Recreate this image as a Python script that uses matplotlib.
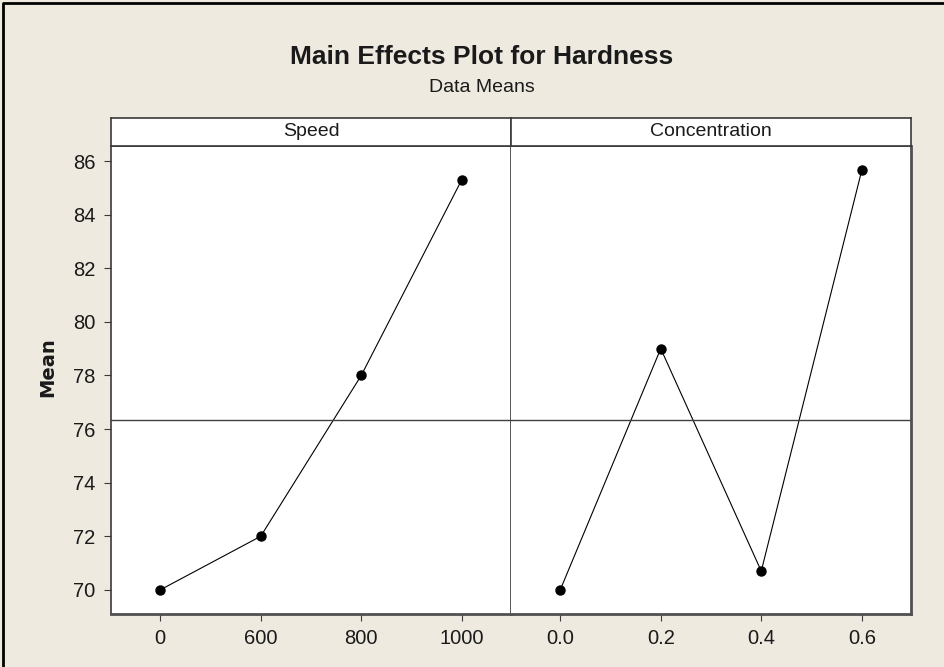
import numpy as np
import matplotlib.pyplot as plt
from matplotlib.lines import Line2D

# data
speed_levels = ['0', '600', '800', '1000']
speed_means = [70.0, 72.0, 78.0, 85.3]
conc_levels = ['0.0', '0.2', '0.4', '0.6']
conc_means = [70.0, 79.0, 70.7, 85.65]
grand_mean = np.mean(speed_means)

plt.rcParams['font.family'] = ['Liberation Sans Narrow', 'Liberation Sans', 'DejaVu Sans']

W, H = 944, 667
bg = '#EEEAE0'
edge = '#3a3a3a'
txt = '#1a1a1a'

fig = plt.figure(figsize=(W / 100, H / 100), dpi=100, facecolor=bg)

# outer frame (left and top)
fig.add_artist(Line2D([3 / W, 3 / W, 1], [0, 1 - 3 / H, 1 - 3 / H],
                      transform=fig.transFigure, color='black', lw=2))

fig.text(482 / W, 1 - 57 / H, 'Main Effects Plot for Hardness', ha='center', va='center',
         fontsize=19, fontweight='bold', color=txt)
fig.text(482 / W, 1 - 87 / H, 'Data Means', ha='center', va='center', fontsize=14, color=txt)

left, pw = 111, 400
bottom, ph = 53, 468
panels = [(speed_levels, speed_means, 'Speed'), (conc_levels, conc_means, 'Concentration')]

for i, (levels, means, name) in enumerate(panels):
    x0 = left + i * pw
    ax = fig.add_axes([x0 / W, bottom / H, pw / W, ph / H], facecolor='white')
    xs = np.arange(len(levels))
    ax.plot(xs, means, color='black', lw=0.8, marker='o', markersize=6.5,
            markerfacecolor='black', markeredgecolor='black')
    ax.axhline(grand_mean, color='#404040', lw=1)
    ax.set_xlim(-0.49, len(levels) - 0.51)
    ax.set_ylim(69.1, 86.56)
    ax.set_xticks(xs)
    ax.set_xticklabels(levels)
    ax.set_yticks(np.arange(70, 87, 2))
    for s in ax.spines.values():
        s.set_color(edge)
        s.set_linewidth(1.2)
    ax.spines['bottom'].set_linewidth(2)
    ax.spines['bottom'].set_color('#505050')
    ax.tick_params(axis='both', direction='out', length=5, width=0.8, color=edge,
                   labelsize=14.5, labelcolor=txt, pad=6)
    if i == 0:
        ax.set_ylabel('Mean', fontsize=14, fontweight='bold', family='DejaVu Sans',
                      color=txt)
        ax.yaxis.set_label_coords((57 - 111) / pw, (614 - 367) / ph)
    else:
        ax.spines['left'].set_visible(False)
        ax.spines['right'].set_linewidth(2)
        ax.spines['right'].set_color('#505050')
        ax.tick_params(axis='y', left=False, labelleft=False)

    # strip header
    hx = fig.add_axes([x0 / W, (bottom + ph) / H, pw / W, 28 / H], facecolor='white')
    hx.set_xticks([])
    hx.set_yticks([])
    for s in hx.spines.values():
        s.set_color(edge)
        s.set_linewidth(1.2)
    hx.text(0.5, 0.5, name, ha='center', va='center', fontsize=14, color=txt,
            transform=hx.transAxes)

fig.savefig('out.png', dpi=100, facecolor=bg)
